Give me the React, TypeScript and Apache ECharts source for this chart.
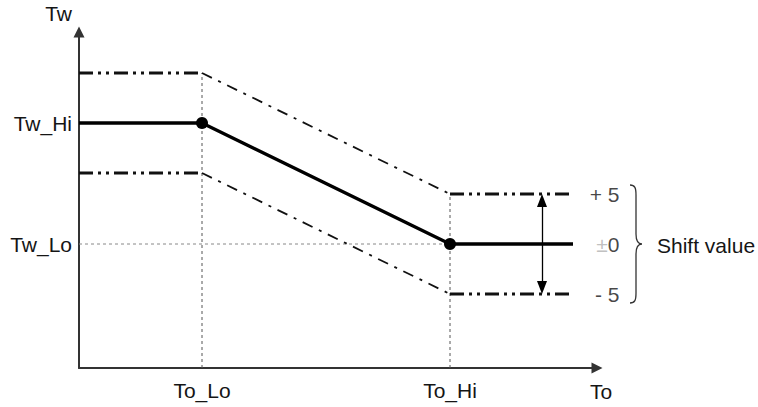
import React, { useEffect, useRef } from "react";
import * as echarts from "echarts";

// Axis levels (data units: x 1 unit = 5px, y 1 unit = 10px)
const xLevelValues = [24.6, 74.2];
const xLevelNames = ["To_Lo", "To_Hi"];
const yLevelValues = [12.4, 24.5];
const yLevelNames = ["Tw_Lo", "Tw_Hi"];

// Main characteristic line and its +5 / -5 shifted bands
const mainLine = [
  [0, 24.5],
  [24.6, 24.5],
  [74.2, 12.4],
  [98.8, 12.4],
];
const upperLine = [
  [0, 29.5],
  [24.6, 29.5],
  [74.2, 17.4],
  [98.8, 17.4],
];
const lowerLine = [
  [0, 19.5],
  [24.6, 19.5],
  [74.2, 7.4],
  [98.8, 7.4],
];

// Shift labels at the right end
const shiftValues = [17.4, 12.4, 7.4];
const shiftNames = ["+ 5", "±0", "- 5"];
const arrowX = 92.6;
const arrowInset = 0.65; // half the arrow-head height, in y units

const FONT = "'Liberation Sans', Arial, sans-serif";
const TEXT = "#151515";
const FS = 21;

const thick = { width: 3, color: "#111", type: [14, 5, 3, 5, 3, 5] as number[], cap: "butt" as const };
const thin = { width: 1.8, color: "#111", type: [11, 7, 3, 7] as number[], cap: "butt" as const };
const guideV = { width: 1, color: "#555", type: [3, 3] as number[] };
const guideH = { width: 1, color: "#888", type: [3, 3] as number[] };

function seg(name: string, data: number[][], lineStyle: any, z = 3) {
  return {
    name,
    type: "line",
    data,
    symbol: "none",
    silent: true,
    lineStyle,
    z,
  };
}

const braceD =
  "M0,0 C5,0 6,3 6,10 L6,49 C6,55 8,59 12,59 C8,59 6,63 6,69 L6,108 C6,115 5,118 0,118";

export default function App() {
  const ref = useRef<HTMLDivElement>(null);
  useEffect(() => {
    if (!ref.current) return;
    try {
      echarts.graphic.registerShape("brace", echarts.graphic.extendPath(braceD, {}) as any);
    } catch (e) {}
    const chart = echarts.init(ref.current, undefined, { renderer: "svg" });
    const option: any = {
      animation: false,
      textStyle: { fontFamily: FONT },
      grid: { left: 79, top: 32, right: 161, bottom: 39 },
      xAxis: {
        type: "value",
        min: 0,
        max: 103.6,
        name: "To",
        nameLocation: "end",
        nameGap: 4,
        nameTextStyle: {
          fontSize: FS,
          color: TEXT,
          fontFamily: FONT,
          align: "center",
          verticalAlign: "top",
          padding: [13, 0, 0, 0],
        },
        axisLine: {
          show: true,
          symbol: ["none", "triangle"],
          symbolSize: [11, 11],
          lineStyle: { color: "#333", width: 2 },
        },
        axisTick: { show: false },
        splitLine: { show: false },
        axisLabel: {
          customValues: xLevelValues,
          formatter: (v: number) => xLevelNames[xLevelValues.indexOf(v)] ?? "",
          fontSize: FS,
          color: TEXT,
          fontFamily: FONT,
          margin: 12,
        },
      },
      yAxis: {
        type: "value",
        min: 0,
        max: 33.6,
        name: "Tw",
        nameLocation: "end",
        nameGap: 8,
        nameTextStyle: {
          fontSize: FS,
          color: TEXT,
          fontFamily: FONT,
          align: "right",
          verticalAlign: "bottom",
          padding: [0, 7, 0, 0],
        },
        axisLine: {
          show: true,
          symbol: ["none", "triangle"],
          symbolSize: [11, 11],
          lineStyle: { color: "#333", width: 2 },
        },
        axisTick: { show: false },
        splitLine: { show: false },
        axisLabel: {
          customValues: yLevelValues,
          formatter: (v: number) => yLevelNames[yLevelValues.indexOf(v)] ?? "",
          fontSize: FS,
          color: TEXT,
          fontFamily: FONT,
          margin: 7,
        },
      },
      series: [
        // guide lines
        seg("guideToLo", [[xLevelValues[0], 0], [xLevelValues[0], upperLine[1][1]]], guideV, 1),
        seg("guideToHi", [[xLevelValues[1], 0], [xLevelValues[1], upperLine[2][1]]], guideV, 1),
        seg("guideTwLo", [[0, yLevelValues[0]], [xLevelValues[1], yLevelValues[0]]], guideH, 1),
        // upper band
        seg("upperLeft", upperLine.slice(0, 2), thick),
        seg("upperDiag", upperLine.slice(1, 3), thin),
        seg("upperRight", upperLine.slice(2, 4), thick),
        // lower band
        seg("lowerLeft", lowerLine.slice(0, 2), thick),
        seg("lowerDiag", lowerLine.slice(1, 3), thin),
        seg("lowerRight", lowerLine.slice(2, 4), thick),
        // main line
        seg("main", mainLine, { width: 3.3, color: "#000", type: "solid" }, 4),
        {
          name: "points",
          type: "scatter",
          data: mainLine.slice(1, 3),
          symbolSize: 12,
          itemStyle: { color: "#000", opacity: 1 },
          silent: true,
          z: 5,
        },
        {
          name: "arrow",
          type: "line",
          data: [],
          silent: true,
          markLine: {
            silent: true,
            symbol: ["triangle", "triangle"],
            symbolSize: [10, 13],
            label: { show: false },
            lineStyle: { color: "#000", width: 1.3, type: "solid" },
            data: [
              [
                { coord: [arrowX, upperLine[3][1] - arrowInset] },
                { coord: [arrowX, lowerLine[3][1] + arrowInset] },
              ],
            ],
          },
        },
        {
          name: "shiftLabels",
          type: "scatter",
          data: shiftValues.map((v) => [mainLine[3][0], v]),
          symbolSize: 1,
          itemStyle: { color: "transparent" },
          silent: true,
          clip: false,
          label: {
            show: true,
            position: "right",
            distance: 46,
            align: "right",
            fontSize: FS,
            color: TEXT,
            fontFamily: FONT,
            formatter: (p: any) => shiftNames[p.dataIndex].replace("±", "{g|±}"),
            rich: {
              g: { color: "#b0b0b0", fontSize: FS, fontFamily: FONT },
            },
          },
        },
      ],
      graphic: [
        {
          type: "brace",
          x: 630,
          y: 185,
          silent: true,
          style: { stroke: "#333", fill: "none", lineWidth: 1.3 },
        },
        {
          type: "text",
          x: 657,
          y: 245,
          silent: true,
          style: {
            text: "Shift value",
            fontSize: FS,
            fontFamily: FONT,
            fill: TEXT,
            verticalAlign: "middle",
          },
        },
      ],
    };
    chart.setOption(option);
    return () => chart.dispose();
  }, []);
  return (
    <div
      ref={ref}
      style={{ position: "fixed", left: 0, top: 0, width: 758, height: 407, background: "#fff" }}
    />
  );
}
